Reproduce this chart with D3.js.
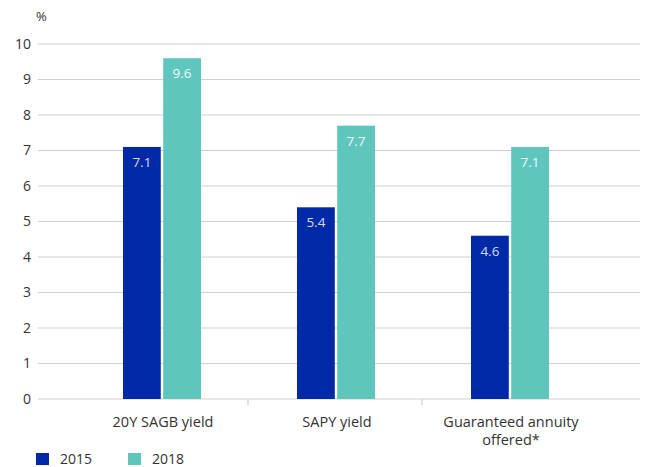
<!DOCTYPE html>
<html>
<head>
<meta charset="utf-8">
<script src="https://cdn.jsdelivr.net/npm/d3@7"></script>
<style>
  html, body { margin: 0; padding: 0; background: #fff; }
  svg { display: block; font-family: "Open Sans", "Lato", sans-serif; }
</style>
</head>
<body>
<svg id="chart" width="648" height="467"></svg>
<script>
// Yields by category, 2015 vs 2018 (%)
const categories = ["20Y SAGB yield", "SAPY yield", "Guaranteed annuity offered*"];
const categoryLines = [["20Y SAGB yield"], ["SAPY yield"], ["Guaranteed annuity", "offered*"]];
const seriesNames = ["2015", "2018"];
const values2015 = [7.1, 5.4, 4.6];
const values2018 = [9.6, 7.7, 7.1];
const yTicks = [0, 1, 2, 3, 4, 5, 6, 7, 8, 9, 10];
const colors = ["#0029a8", "#5ec6bd"];

const svg = d3.select("#chart");
const gridLeft = 38, gridRight = 640;
const y = d3.scaleLinear().domain([0, 10]).range([399, 44]);
const x = d3.scaleBand().domain(categories).range([74, 596]).paddingInner(0).paddingOuter(0);
const xs = d3.scaleBand().domain(seriesNames).range([49, 127]).paddingInner(0.06);

// Gridlines
svg.append("g").selectAll("line").data(yTicks).join("line")
  .attr("x1", gridLeft).attr("x2", gridRight)
  .attr("y1", d => y(d)).attr("y2", d => y(d))
  .attr("stroke", "#cfcfcf").attr("stroke-width", 1.2);

// Y tick labels
svg.append("g").selectAll("text").data(yTicks).join("text")
  .attr("x", 31).attr("y", d => y(d)).attr("dy", "0.35em")
  .attr("text-anchor", "end").attr("font-size", 14).attr("fill", "#333")
  .text(d => d);

svg.append("text").attr("x", 36).attr("y", 21).attr("font-size", 13).attr("fill", "#333").text("%");

// Category separators
svg.append("g").selectAll("line").data(categories.slice(1)).join("line")
  .attr("x1", d => x(d)).attr("x2", d => x(d))
  .attr("y1", y(0)).attr("y2", y(0) + 6)
  .attr("stroke", "#cfcfcf").attr("stroke-width", 1.2);

// Bars
const series = [values2015, values2018];
const groups = svg.append("g").selectAll("g").data(categories).join("g")
  .attr("transform", d => `translate(${x(d)},0)`);

groups.each(function(cat, i) {
  const g = d3.select(this);
  seriesNames.forEach((s, j) => {
    const v = series[j][i];
    g.append("rect")
      .attr("x", xs(s)).attr("width", xs.bandwidth())
      .attr("y", y(v)).attr("height", y(0) - y(v))
      .attr("fill", colors[j]);
    g.append("text")
      .attr("x", xs(s) + xs.bandwidth() / 2).attr("y", y(v) + 20)
      .attr("text-anchor", "middle").attr("font-size", 13.5)
      .attr("fill", j === 0 ? "#d6dcf2" : "#f2fbfa")
      .text(v.toFixed(1));
  });
});

// Category labels
svg.append("g").selectAll("text").data(categories).join("text")
  .attr("x", d => x(d) + x.bandwidth() / 2 + 2)
  .attr("y", 427).attr("text-anchor", "middle").attr("font-size", 14.5).attr("fill", "#333")
  .each(function(d, i) {
    const t = d3.select(this);
    categoryLines[i].forEach((line, k) => {
      t.append("tspan").attr("x", x(d) + x.bandwidth() / 2 + 2).attr("dy", k === 0 ? 0 : 18).text(line);
    });
  });

// Legend
const legendX = [36, 128];
const legend = svg.append("g").selectAll("g").data(seriesNames).join("g")
  .attr("transform", (d, i) => `translate(${legendX[i]},453)`);
legend.append("rect").attr("width", 13).attr("height", 12).attr("fill", (d, i) => colors[i]);
legend.append("text").attr("x", 24).attr("y", 6).attr("dy", "0.35em")
  .attr("font-size", 14).attr("fill", "#333").text(d => d);
</script>
</body>
</html>
